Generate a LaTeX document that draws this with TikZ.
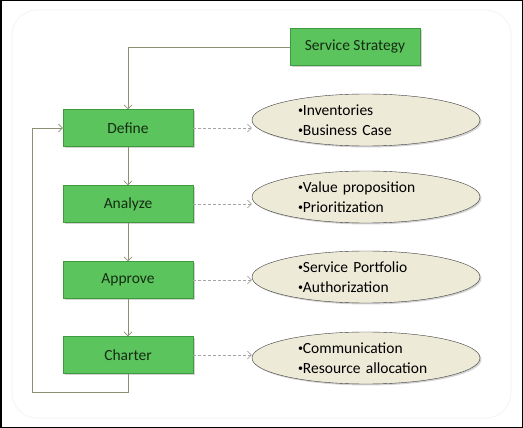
\documentclass[tikz,border=0pt]{standalone}
\usepackage{fontspec}
\setmainfont{Carlito}
\usetikzlibrary{arrows.meta,shapes.geometric,shadows}
\definecolor{boxgreen}{HTML}{5CC45C}
\definecolor{boxedge}{HTML}{3E9A3E}
\definecolor{boxtext}{HTML}{142C14}
\definecolor{ellfill}{HTML}{EEEAD8}
\definecolor{elledge}{HTML}{3A3A3A}
\definecolor{flowline}{HTML}{8E8E74}
\newcommand{\dotitem}{\raisebox{2pt}{\fontsize{10}{10}\selectfont\textbullet}}
\begin{document}
\begin{tikzpicture}[x=1pt,y=-1pt,
    stage/.style={draw=boxedge, fill=boxgreen, minimum width=130pt, minimum height=37pt,
      inner sep=0pt, text=boxtext, font=\fontsize{15.5}{18}\selectfont,
      drop shadow={shadow xshift=1.5pt, shadow yshift=-1.5pt, opacity=0.35}},
    topic/.style={ellipse, draw=elledge, fill=ellfill, minimum width=228pt, minimum height=52pt,
      inner sep=0pt, text width=136pt, align=left, font=\fontsize{15.5}{20}\selectfont,
      drop shadow={shadow xshift=1.5pt, shadow yshift=-1.5pt, opacity=0.35}},
    flow/.style={draw=flowline, line width=0.7pt, -{Straight Barb[length=4pt,width=8pt]}},
    hint/.style={draw=gray!70, line width=0.7pt, dash pattern=on 3pt off 2pt,
      -{Straight Barb[length=4pt,width=8pt]}}]
  \useasboundingbox (0,0) rectangle (523,428);
  \draw[black!4, line width=1pt, rounded corners=25pt] (12,10) rectangle (511,418);
  \draw[line width=1.5pt] (0.75,0.75) rectangle (522.25,427.25);
  % stages
  \node[stage] (ss) at (355,47) {Service Strategy};
  \node[stage] (def) at (128,128) {Define};
  \node[stage] (ana) at (128,204) {Analyze};
  \node[stage] (app) at (128,280) {Approve};
  \node[stage] (cha) at (128,355) {Charter};
  % outputs
  \node[topic] (inv) at (366,120) {\dotitem Inventories\\\dotitem Business Case};
  \node[topic] (val) at (366,197) {\dotitem Value proposition\\\dotitem Prioritization};
  \node[topic] (port) at (366,277) {\dotitem Service Portfolio\\\dotitem Authorization};
  \node[topic] (com) at (366,358) {\dotitem Communication\\\dotitem Resource allocation};
  % flow
  \draw[flow] (ss.west) -| (def.north);
  \draw[flow] (def) -- (ana);
  \draw[flow] (ana) -- (app);
  \draw[flow] (app) -- (cha);
  \coordinate (back) at (32,392);
  \draw[flow] (cha.south) |- (back) |- (def.west);
  \draw[hint] (def.east) -- (def.east -| inv.west);
  \draw[hint] (ana.east) -- (ana.east -| val.west);
  \draw[hint] (app.east) -- (app.east -| port.west);
  \draw[hint] (cha.east) -- (cha.east -| com.west);
\end{tikzpicture}
\end{document}
